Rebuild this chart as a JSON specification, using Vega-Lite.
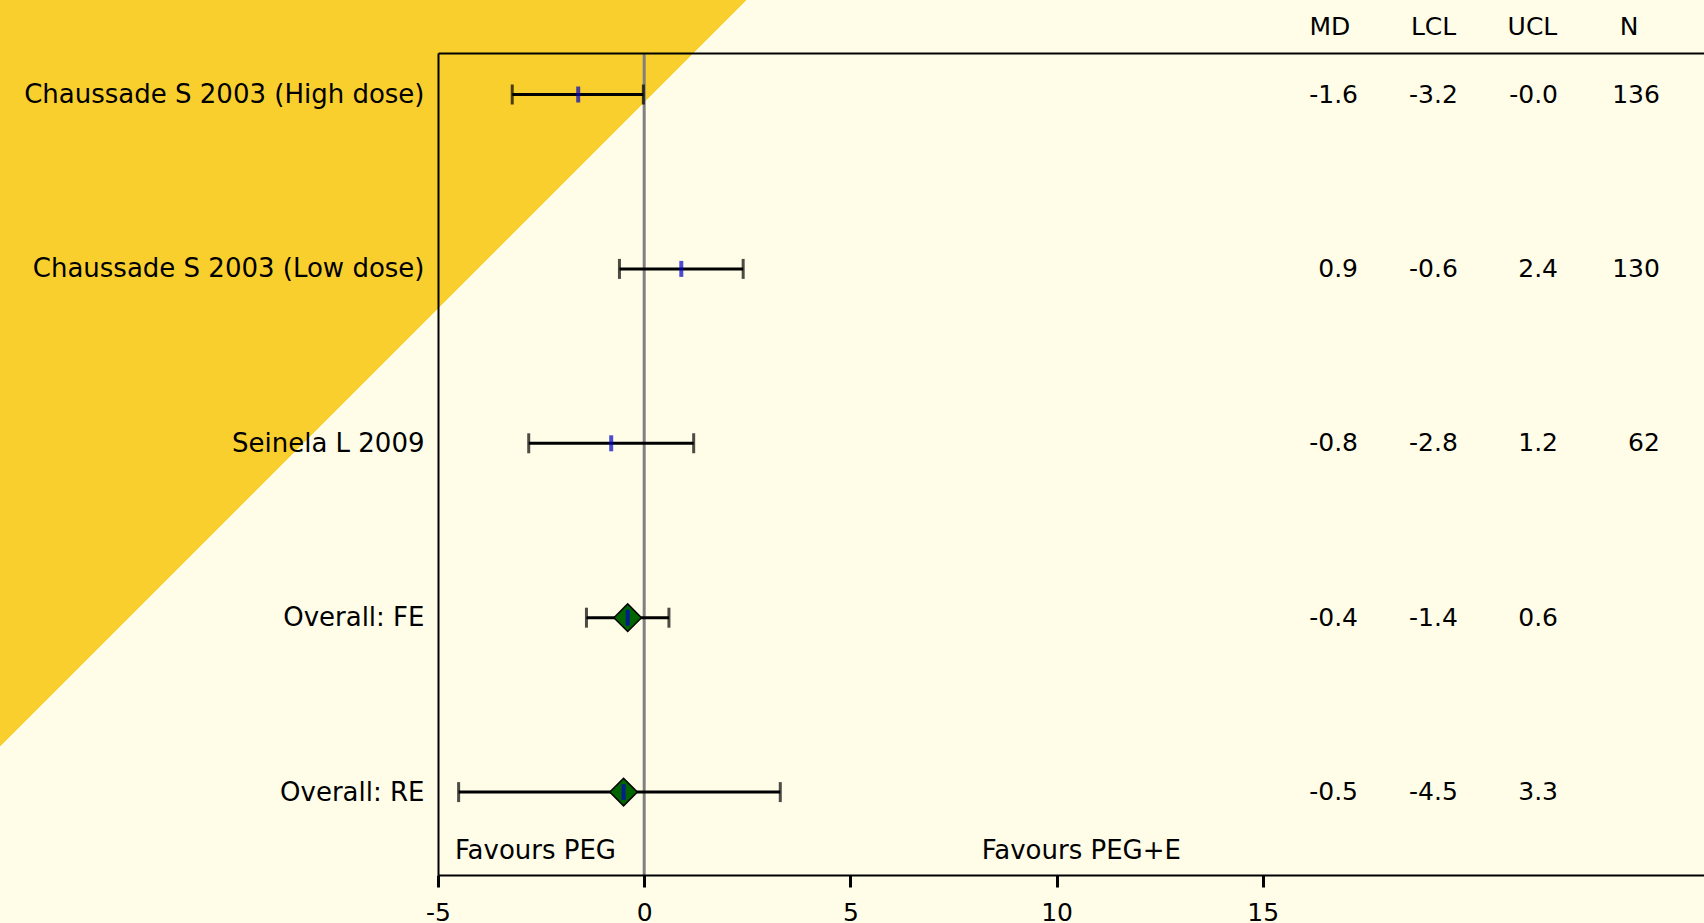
{
  "$schema": "https://vega.github.io/schema/vega-lite/v6.json",
  "autosize": {"type": "none"},
  "padding": {"left": 438, "top": 53, "right": 0, "bottom": 48},
  "width": 1266,
  "height": 822,
  "background": "#FFFDE8",
  "config": {
    "font": "DejaVu Sans",
    "view": {"stroke": null, "fill": null},
    "axis": {"zindex": 2, "grid": false, "labelColor": "#000000", "labelFont": "DejaVu Sans", "labelFontSize": 25, "domainColor": "#000000", "domainWidth": 2, "labelFlush": false, "labelOverlap": false},
    "locale": {"number": {"decimal": ".", "thousands": ",", "grouping": [3], "currency": ["", ""], "minus": "-"}}
  },
  "datasets": {
    "studies": [
      {"study": "Chaussade S 2003 (High dose)", "md": -1.6, "lcl": -3.2, "ucl": -0.02, "n": 136, "kind": "study"},
      {"study": "Chaussade S 2003 (Low dose)", "md": 0.9, "lcl": -0.6, "ucl": 2.4, "n": 130, "kind": "study"},
      {"study": "Seinela L 2009", "md": -0.8, "lcl": -2.8, "ucl": 1.2, "n": 62, "kind": "study"},
      {"study": "Overall: FE", "md": -0.4, "lcl": -1.4, "ucl": 0.6, "n": null, "kind": "overall"},
      {"study": "Overall: RE", "md": -0.5, "lcl": -4.5, "ucl": 3.3, "n": null, "kind": "overall"}
    ]
  },
  "resolve": {"scale": {"y": "independent"}, "axis": {"x": "independent", "y": "independent"}},
  "layer": [
    {
      "data": {"values": [{}]},
      "mark": {
        "type": "rect", "clip": false, "zindex": 0,
        "fill": {"gradient": "linear", "x1": 0, "y1": 0, "x2": 1, "y2": 0.54167,
          "stops": [
            {"offset": 0, "color": "#F9CF2E"},
            {"offset": 0.3389, "color": "#F9CF2E"},
            {"offset": 0.3389, "color": "#FFFDE8"},
            {"offset": 1, "color": "#FFFDE8"}
          ]}
      },
      "encoding": {
        "x": {"datum": -15.621, "type": "quantitative", "axis": null},
        "x2": {"datum": 25.7},
        "y": {"datum": 1.0645, "type": "quantitative", "scale": {"domain": [0, 1], "nice": false, "zero": false}, "axis": null},
        "y2": {"datum": -0.0584}
      }
    },
    {
      "data": {"name": "studies"},
      "resolve": {"axis": {"x": "independent"}},
      "layer": [
        {
          "data": {"values": [{}]},
          "mark": {"type": "rule", "color": "#808080", "strokeWidth": 3, "zindex": 1},
          "encoding": {
            "x": {"datum": 0, "type": "quantitative", "scale": {"domain": [-5, 25.7], "nice": false, "zero": false},
              "axis": {"orient": "top", "title": null, "zindex": 2, "values": [17.11, 19.68, 22.13, 24.1], "ticks": false, "tickSize": 0,
                "labelExpr": "datum.value < 18 ? 'MD' : datum.value < 21 ? 'LCL' : datum.value < 23 ? 'UCL' : 'N'",
                "labelAlign": "right", "labelBaseline": "alphabetic", "labelPadding": 19}}
          }
        },
        {
          "mark": {"type": "rule", "color": "#000000", "strokeWidth": 3, "zindex": 1},
          "encoding": {
            "x": {"field": "lcl", "type": "quantitative", "scale": {"domain": [-5, 25.7], "nice": false, "zero": false},
              "axis": {"orient": "bottom", "title": null, "zindex": 2, "values": [-5, 0, 5, 10, 15], "format": "d", "tickSize": 12, "tickWidth": 3, "tickColor": "#000000", "labelPadding": 13}},
            "x2": {"field": "ucl"},
            "y": {"field": "study", "type": "nominal", "sort": null, "title": null,
              "scale": {"type": "point", "padding": 0.3567, "align": 0.3336},
              "axis": {"title": null, "zindex": 2, "ticks": false, "labelFontSize": 26, "labelPadding": 14, "labelLimit": 1000}}
          }
        },
        {
          "mark": {"type": "tick", "color": "#000000", "size": 20, "thickness": 3, "zindex": 1},
          "encoding": {
            "x": {"field": "lcl", "type": "quantitative", "axis": null},
            "y": {"field": "study", "type": "nominal", "sort": null, "title": null}
          }
        },
        {
          "mark": {"type": "tick", "color": "#000000", "size": 20, "thickness": 3, "zindex": 1},
          "encoding": {
            "x": {"field": "ucl", "type": "quantitative", "axis": null},
            "y": {"field": "study", "type": "nominal", "sort": null, "title": null}
          }
        },
        {
          "transform": [{"filter": "datum.kind == 'overall'"}],
          "mark": {"type": "point", "shape": "diamond", "filled": true, "fill": "#006400", "stroke": "#000000", "strokeWidth": 1.5, "size": 760, "opacity": 1, "zindex": 1},
          "encoding": {
            "x": {"field": "md", "type": "quantitative", "axis": null},
            "y": {"field": "study", "type": "nominal", "sort": null, "title": null}
          }
        },
        {
          "mark": {"type": "tick", "color": "#0000C8", "size": 16, "thickness": 4, "zindex": 1},
          "encoding": {
            "x": {"field": "md", "type": "quantitative", "axis": null},
            "y": {"field": "study", "type": "nominal", "sort": null, "title": null}
          }
        },
        {
          "mark": {"type": "text", "align": "right", "baseline": "middle", "fontSize": 25, "color": "#000000", "zindex": 1,
            "text": {"expr": "(datum.md < 0 ? '-' : '') + format(abs(datum.md), '.1f')"}},
          "encoding": {
            "x": {"datum": 17.31, "type": "quantitative", "axis": null},
            "y": {"field": "study", "type": "nominal", "sort": null, "title": null}
          }
        },
        {
          "mark": {"type": "text", "align": "right", "baseline": "middle", "fontSize": 25, "color": "#000000", "zindex": 1,
            "text": {"expr": "(datum.lcl < 0 ? '-' : '') + format(abs(datum.lcl), '.1f')"}},
          "encoding": {
            "x": {"datum": 19.73, "type": "quantitative", "axis": null},
            "y": {"field": "study", "type": "nominal", "sort": null, "title": null}
          }
        },
        {
          "mark": {"type": "text", "align": "right", "baseline": "middle", "fontSize": 25, "color": "#000000", "zindex": 1,
            "text": {"expr": "(datum.ucl < 0 ? '-' : '') + format(abs(datum.ucl), '.1f')"}},
          "encoding": {
            "x": {"datum": 22.16, "type": "quantitative", "axis": null},
            "y": {"field": "study", "type": "nominal", "sort": null, "title": null}
          }
        },
        {
          "transform": [{"filter": "datum.n != null"}],
          "mark": {"type": "text", "align": "right", "baseline": "middle", "fontSize": 25, "color": "#000000", "zindex": 1},
          "encoding": {
            "x": {"datum": 24.63, "type": "quantitative", "axis": null},
            "y": {"field": "study", "type": "nominal", "sort": null, "title": null},
            "text": {"field": "n", "type": "quantitative", "format": "d"}
          }
        },
        {
          "data": {"values": [{"label": "Favours PEG"}]},
          "mark": {"type": "text", "align": "left", "baseline": "middle", "fontSize": 26, "color": "#000000", "dy": 59, "zindex": 1},
          "encoding": {
            "x": {"datum": -4.588, "type": "quantitative", "axis": null},
            "y": {"datum": "Overall: RE", "type": "nominal", "title": null},
            "text": {"field": "label", "type": "nominal"}
          }
        },
        {
          "data": {"values": [{"label": "Favours PEG+E"}]},
          "mark": {"type": "text", "align": "center", "baseline": "middle", "fontSize": 26, "color": "#000000", "dy": 59, "zindex": 1},
          "encoding": {
            "x": {"datum": 10.6, "type": "quantitative", "axis": null},
            "y": {"datum": "Overall: RE", "type": "nominal", "title": null},
            "text": {"field": "label", "type": "nominal"}
          }
        }
      ]
    }
  ]
}
